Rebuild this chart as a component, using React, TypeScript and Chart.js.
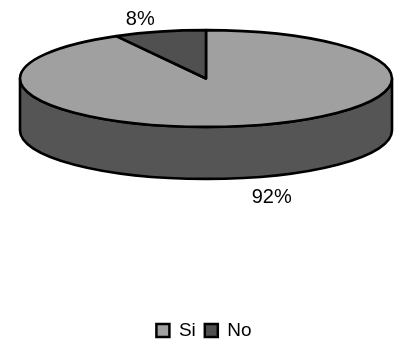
import React, { useEffect, useRef } from "react";
import { Chart, registerables } from "chart.js";

Chart.register(...registerables);

const categories = ["Si", "No"];
const shares = [92, 8];
const faceColors = ["#a0a0a0", "#505050"];
const sideColor = "#555555";
const outline = "#000000";
const fontFamily = "'Liberation Sans', Arial, sans-serif";

// Disc proportions: vertical squash of the circular pie and the rim height.
const tilt = 0.26;
const rimDepth = 52;
const discCenterOffsetX = 2;
const discCenterY = 78.5;

const tiltedPie = {
  id: "tiltedPie",
  beforeDatasetDraw(chart: any) {
    const { ctx } = chart;
    const arcs = chart.getDatasetMeta(0).data as any[];
    const first = arcs[0];
    const cx = first.x + discCenterOffsetX;
    const cy = discCenterY;
    const rx = first.outerRadius;
    const ry = rx * tilt;

    ctx.save();
    ctx.lineWidth = 2.6;
    ctx.strokeStyle = outline;
    ctx.lineJoin = "round";

    // Rim: the front half of the disc pushed down by its depth.
    ctx.beginPath();
    ctx.ellipse(cx, cy, rx, ry, 0, 0, Math.PI);
    ctx.lineTo(cx - rx, cy + rimDepth);
    ctx.ellipse(cx, cy + rimDepth, rx, ry, 0, Math.PI, 0, true);
    ctx.closePath();
    ctx.fillStyle = sideColor;
    ctx.fill();
    ctx.stroke();

    // Top face, one wedge per data value.
    arcs.forEach((arc, i) => {
      ctx.beginPath();
      ctx.moveTo(cx, cy);
      ctx.ellipse(cx, cy, rx, ry, 0, arc.startAngle, arc.endAngle);
      ctx.closePath();
      ctx.fillStyle = faceColors[i];
      ctx.fill();
      ctx.stroke();
    });

    // Percentage labels placed outside each wedge along its mid angle.
    ctx.fillStyle = "#000000";
    ctx.font = `20px ${fontFamily}`;
    ctx.textAlign = "center";
    ctx.textBaseline = "middle";
    arcs.forEach((arc, i) => {
      const mid = (arc.startAngle + arc.endAngle) / 2;
      const lx = cx + Math.cos(mid) * rx * 1.42;
      const sy = Math.sin(mid);
      const ly = sy > 0 ? cy + rimDepth + sy * ry * 1.42 : cy + sy * ry * 1.27;
      ctx.fillText(`${shares[i]}%`, lx, ly);
    });
    ctx.restore();
    return false;
  },
};

export default function App() {
  const canvasRef = useRef<HTMLCanvasElement>(null);

  useEffect(() => {
    const chart = new Chart(canvasRef.current!, {
      type: "pie",
      data: {
        labels: categories,
        datasets: [
          {
            data: shares,
            backgroundColor: faceColors,
            borderColor: outline,
            borderWidth: 2.5,
          },
        ],
      },
      options: {
        responsive: false,
        animation: false,
        radius: 186,
        layout: { padding: { left: 8, bottom: -3 } },
        plugins: {
          tooltip: { enabled: false },
          legend: {
            position: "bottom",
            labels: {
              color: "#000000",
              boxWidth: 13,
              boxHeight: 13,
              padding: 9,
              font: { family: fontFamily, size: 19 },
            },
          },
        },
      },
      plugins: [tiltedPie],
    } as any);
    return () => chart.destroy();
  }, []);

  return (
    <div style={{ position: "fixed", left: 0, top: 0, width: 400, height: 347, background: "#ffffff" }}>
      <canvas ref={canvasRef} width={400} height={347} style={{ display: "block" }} />
    </div>
  );
}
